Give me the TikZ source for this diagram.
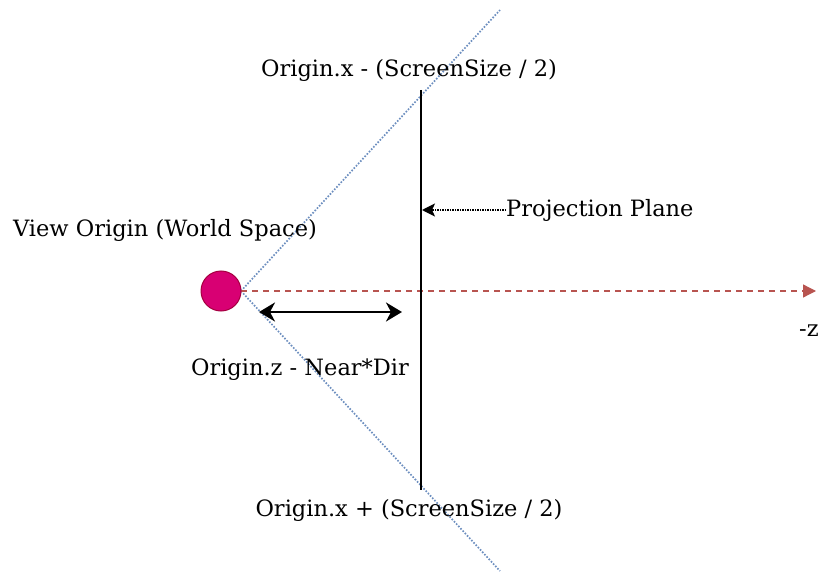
\documentclass[tikz,border=0pt]{standalone}
\usepackage{fontspec}
\setmainfont{DejaVu Serif}
\usetikzlibrary{arrows.meta}
\definecolor{viewfill}{HTML}{D80073}
\definecolor{viewline}{HTML}{A50040}
\definecolor{axisred}{HTML}{B85450}
\definecolor{frustum}{HTML}{6C8EBF}
\tikzset{
  lbl/.style={font=\fontsize{22.5}{26}\selectfont, inner sep=0pt},
  frustumline/.style={frustum, line width=1.7pt, dash pattern=on 1.6pt off 1.6pt},
  axisline/.style={axisred, line width=1.3pt, dash pattern=on 6pt off 5pt, -{Triangle[length=13pt,width=13pt]}},
  planeline/.style={black, line width=2pt},
  gap/.style={black, line width=2pt, {Stealth[length=16pt,width=19pt,inset=5pt]}-{Stealth[length=16pt,width=19pt,inset=5pt]}},
  pointer/.style={black, line width=1.3pt, dash pattern=on 1.3pt off 1.2pt, -{Stealth[length=13pt,width=13pt,inset=3pt]}}
}
\begin{document}
\begin{tikzpicture}[x=1pt,y=-1pt]
  \useasboundingbox (0,0) rectangle (819,572);
  % frustum edges from the eye
  \coordinate (eye) at (241,291);
  \coordinate (ftop) at (500,10);
  \coordinate (fbot) at (500,571);
  \draw[frustumline] (eye) -- (ftop);
  \draw[frustumline] (eye) -- (fbot);
  % view axis
  \coordinate (zend) at (816,291);
  \draw[axisline] (eye) -- (zend);
  % eye position
  \node[circle, minimum size=40pt, inner sep=0pt, fill=viewfill, draw=viewline, line width=1pt] (view) at (221,291) {};
  % projection plane
  \coordinate (ptop) at (421,90);
  \coordinate (pbot) at (421,490);
  \draw[planeline] (ptop) -- (pbot);
  % near distance
  \coordinate (nl) at (259,312);
  \coordinate (nr) at (402,312);
  \draw[gap] (nl) -- (nr);
  % labels
  \node[lbl] (topl) at (409,70) {Origin.x - (ScreenSize / 2)};
  \node[lbl] (botl) at (409,510) {Origin.x + (ScreenSize / 2)};
  \node[lbl, anchor=west] (plane) at (506,210) {Projection Plane};
  \node[lbl] (viewl) at (165,230) {View Origin (World Space)};
  \node[lbl] (near) at (300,370) {Origin.z - Near*Dir};
  \node[lbl, anchor=west] (zl) at (799,331) {-z};
  \coordinate (phit) at (422,210);
  \draw[pointer] (plane.west) -- (phit);
\end{tikzpicture}
\end{document}
